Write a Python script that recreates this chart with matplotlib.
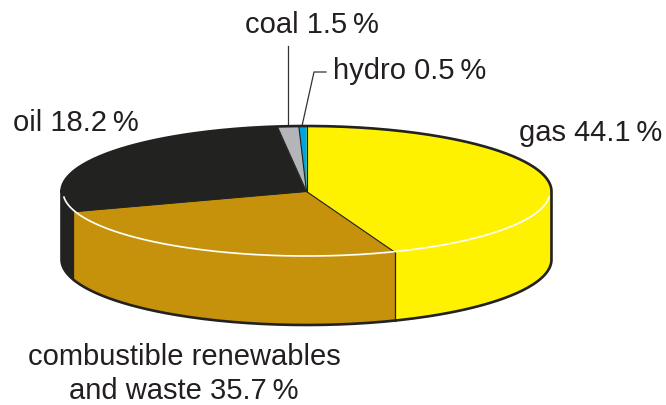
import numpy as np
import matplotlib
matplotlib.use('Agg')
import matplotlib.pyplot as plt
from matplotlib.patches import Polygon

plt.rcParams['font.family'] = ['Liberation Sans', 'DejaVu Sans']

# slices clockwise from 12 o'clock; shares are what the drawing shows, not the labels
names = ['gas', 'renewables', 'oil', 'coal', 'hydro']
drawn_share = [44.1, 25.9, 28.1, 1.4, 0.5]
colors = ['#fff200', '#c6920c', '#222221', '#b3b5b8', '#00a3e0']
labels = ['gas 44.1\u2009%', 'combustible renewables\nand waste 35.7\u2009%',
          'oil 18.2\u2009%', 'coal 1.5\u2009%', 'hydro 0.5\u2009%']

dark = '#222221'
cx, cy, rx, ry = 306.5, 191.5, 245, 65.5
depth = 68


def rim(t, rx=rx, ry=ry, cy=cy):
    t = np.radians(t)
    return np.c_[cx + rx * np.sin(t), cy - ry * np.cos(t)]


fig = plt.figure(figsize=(6.66, 4.05), dpi=100)
ax = fig.add_axes([0, 0, 1, 1])
ax.set_xlim(0, 666)
ax.set_ylim(405, 0)
ax.axis('off')

edges = np.r_[0, np.cumsum(drawn_share)] / np.sum(drawn_share) * 360

# side wall, only the front half shows
for a, b, c in zip(edges[:-1], edges[1:], colors):
    lo, hi = max(a, 90), min(b, 270)
    if lo >= hi:
        continue
    t = np.linspace(lo, hi, 80)
    top = rim(t)
    wall = np.r_[top, (top + [0, depth])[::-1]]
    ax.add_patch(Polygon(wall, fc=c, ec=c, lw=0.3, zorder=1))
    if lo > 90:
        ax.plot(*np.c_[top[0], top[0] + [0, depth]], color=dark, lw=0.9, zorder=2)

# top face
for a, b, c in zip(edges[:-1], edges[1:], colors):
    t = np.linspace(a, b, 100)
    top = np.r_[[[cx, cy]], rim(t)]
    ax.add_patch(Polygon(top, fc=c, ec=c, lw=0.3, zorder=3))

# thin lines between the slices
for a in edges[:-1]:
    p = rim(np.array([a]))[0]
    ax.plot([cx, p[0]], [cy, p[1]], color=dark, lw=0.8, zorder=3.5)

# white highlight along the front rim
t = np.linspace(95, 265, 200)
hl = rim(t, rx - 1.5, ry - 1)
ax.plot(hl[:, 0], hl[:, 1], color='white', lw=1.2, zorder=4)

# silhouette
t = np.linspace(-90, 90, 200)
back = rim(t)
t = np.linspace(90, 270, 200)
front = rim(t) + [0, depth]
outline = np.r_[back, front, back[:1]]
ax.plot(outline[:, 0], outline[:, 1], color=dark, lw=1.9, zorder=5, solid_joinstyle='round')

# leaders
ax.plot([288, 288], [46, 126], color='#333333', lw=0.9, zorder=2)
ax.plot([302, 314, 326], [126, 72, 72], color='#333333', lw=0.9, zorder=2)

fs = 21
txt = '#231f20'
ax.text(519, 141, labels[0], fontsize=fs, color=txt, va='baseline')
ax.text(184, 365, labels[1].split('\n')[0], fontsize=fs, color=txt, va='baseline', ha='center')
ax.text(184, 399, labels[1].split('\n')[1], fontsize=fs, color=txt, va='baseline', ha='center')
ax.text(13, 131, labels[2], fontsize=fs, color=txt, va='baseline')
ax.text(245, 33, labels[3], fontsize=fs, color=txt, va='baseline')
ax.text(333, 79, labels[4], fontsize=fs, color=txt, va='baseline')

fig.savefig('out.png', dpi=100)
